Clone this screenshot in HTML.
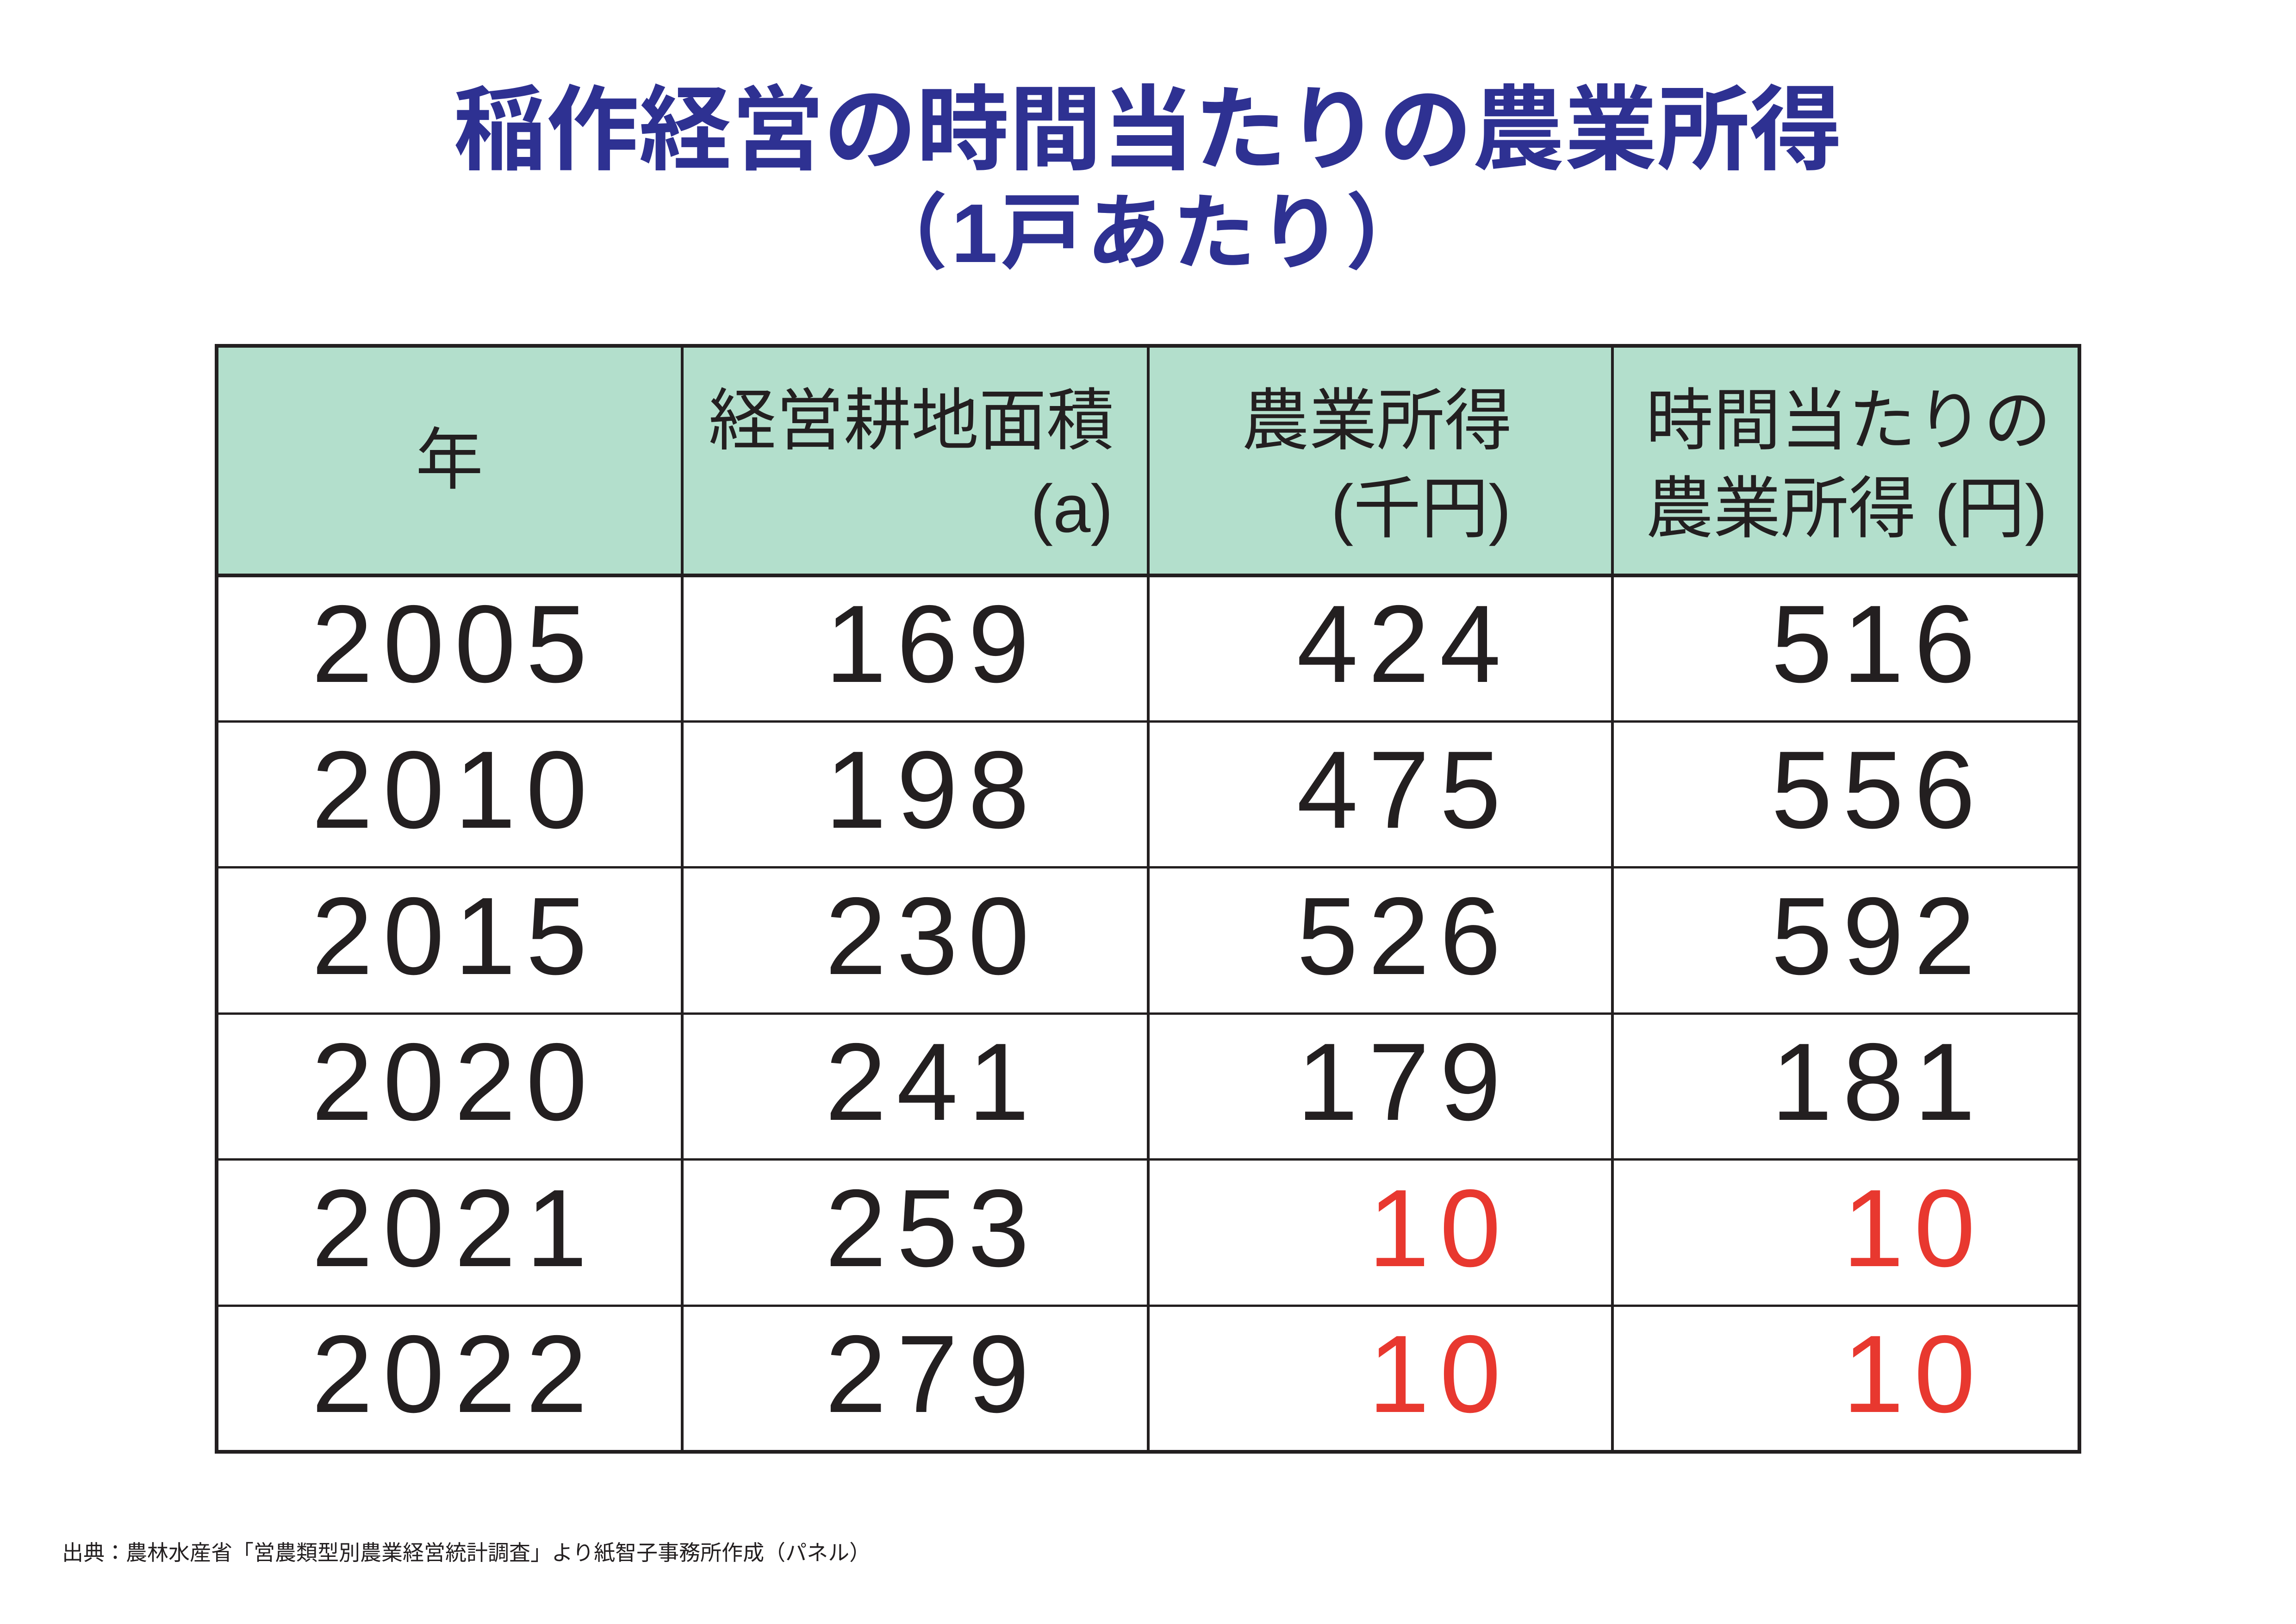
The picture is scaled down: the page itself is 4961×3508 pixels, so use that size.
<!DOCTYPE html>
<html><head><meta charset="utf-8">
<style>
html,body{margin:0;padding:0;background:#fff;}
body{width:4961px;height:3508px;position:relative;overflow:hidden;font-family:"Liberation Sans","Noto Sans CJK JP",sans-serif;color:#231f20;}
.a{position:absolute;white-space:nowrap;}
.title{left:0;width:4961px;text-align:center;color:#2e3192;font-weight:bold;}
.hl{position:absolute;background:#231f20;}
.hdr{position:absolute;background:#b3dfcc;}
.num{position:absolute;font-size:238px;line-height:262px;letter-spacing:22px;}
.red{color:#e8382f;}
.ht{font-size:146px;line-height:148px;}
</style></head>
<body>
<div class="a title" style="top:172px;font-size:200px;line-height:220px;">稲作経営の時間当たりの農業所得</div>
<div class="a title" style="top:405px;font-size:180px;line-height:200px;letter-spacing:6px;">（1戸あたり）</div>

<div>
<div class="hdr" style="left:468px;top:747px;width:4025px;height:496px;"></div>
<div id="grid"></div>
<div class="a ht" style="left:468px;width:1006px;text-align:center;top:920px;">年</div>
<div class="a ht" style="left:1531px;top:835px;">経営耕地面積</div>
<div class="a ht" style="left:2205px;width:200px;text-align:right;top:1025px;">(a)</div>
<div class="a ht" style="left:2683px;top:835px;">農業所得</div>
<div class="a ht" style="left:2865px;width:400px;text-align:right;top:1025px;">(千円)</div>
<div class="a ht" style="left:3556px;top:835px;">時間当たりの</div>
<div class="a ht" style="left:3556px;top:1025px;">農業所得 (円)</div>
<div id="cells"></div>
</div>

<div class="a" style="left:134px;top:3328px;font-size:46px;line-height:52px;">出典：農林水産省「営農類型別農業経営統計調査」より紙智子事務所作成（パネル）</div>

<script>
const years = ["2005","2010","2015","2020","2021","2022"];
const area = [169,198,230,241,253,279];
const income = [424,475,526,179,10,10];
const hourly = [516,556,592,181,10,10];
const redIncome = [false,false,false,false,true,true];

const L=468,R=4493,T=747,H=1243,rowH=315.5;
const cols=[468,1474,2481,3484,4493];
const grid=document.getElementById('grid');
function line(x,y,w,h,name){
  const d=document.createElement('div');d.className='hl';
  d.style.left=x+'px';d.style.top=y+'px';d.style.width=w+'px';d.style.height=h+'px';
  
  
  grid.appendChild(d);
}
const bottom=H+rowH*years.length;
line(L-4,T-4,R-L+8,8,'table-top-border');
line(L-4,H-4,R-L+8,8,'header-bottom-border');
for(let i=1;i<years.length;i++) line(L,H+rowH*i-3,R-L,5,'row-divider');
line(L-4,bottom-4,R-L+8,8,'table-bottom-border');
cols.forEach((x,i)=>line(x-(i===0||i===4?4:3),T-4,(i===0||i===4?8:6),bottom-T+8,'column-divider'));

const cells=document.getElementById('cells');
function cell(txt,x,align,i,red,name){
  const d=document.createElement('div');d.className='num'+(red?' red':'');
  const top=H+rowH*i+rowH/2-140;
  d.style.top=top+'px';
  if(align==='c'){d.style.left=(x-500+11)+'px';d.style.width='1000px';d.style.textAlign='center';}
  else{d.style.left=(x-1000+22)+'px';d.style.width='1000px';d.style.textAlign='right';}
  d.textContent=txt;
  
  
  cells.appendChild(d);
}
years.forEach((y,i)=>{
  cell(y,971,'c',i,false,'year-cell');
  cell(String(area[i]),2224,'r',i,false,'area-cell');
  cell(String(income[i]),3243,'r',i,redIncome[i],'income-cell');
  cell(String(hourly[i]),4268,'r',i,redIncome[i],'hourly-income-cell');
});
</script>
</body></html>
